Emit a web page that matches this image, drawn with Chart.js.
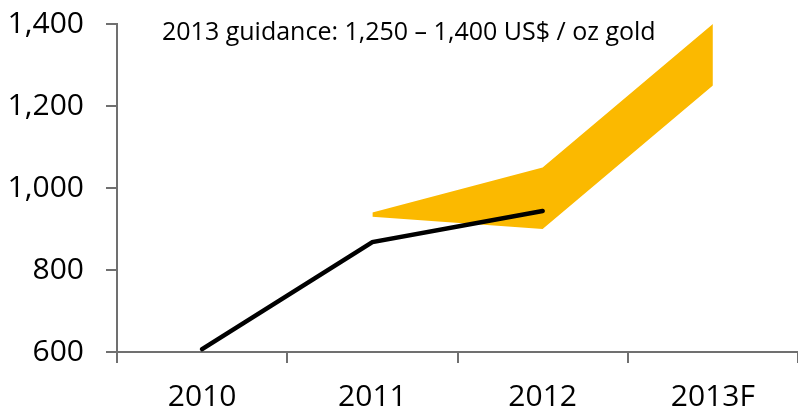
<!DOCTYPE html>
<html>
<head>
<meta charset="utf-8">
<script src="https://cdn.jsdelivr.net/npm/chart.js@4.4.1/dist/chart.umd.min.js"></script>
<style>
  html, body { margin: 0; padding: 0; background: #fff; }
  #wrap { width: 798px; height: 414px; }
</style>
</head>
<body>
<div id="wrap"><canvas id="myChart"></canvas></div>
<script>
// gold price history and 2013 guidance band
const years = ['2010', '2011', '2012', '2013F'];
const realisedPrice = [607, 868, 944, null];
const guidanceHigh = [null, 940, 1050, 1400];
const guidanceLow = [null, 930, 900, 1250];
const yTicks = [600, 800, 1000, 1200, 1400];
const note = '2013 guidance: 1,250 \u2013 1,400 US$ / oz gold';

const axisGrey = '#707070';
const gold = '#FBB900';
const fontFamily = '"Open Sans", "Noto Sans", sans-serif';

const notePlugin = {
  id: 'note',
  afterDraw(chart) {
    const ctx = chart.ctx;
    const area = chart.chartArea;
    ctx.save();
    ctx.font = '25px ' + fontFamily;
    ctx.fillStyle = '#000';
    ctx.textBaseline = 'middle';
    ctx.fillText(note, area.left + 45, area.top + 9);
    ctx.restore();
  }
};

new Chart(document.getElementById('myChart'), {
  type: 'line',
  data: {
    labels: years,
    datasets: [
      {
        label: 'Gold price',
        data: realisedPrice,
        borderColor: '#000',
        borderWidth: 4.5,
        borderCapStyle: 'round',
        pointRadius: 0,
        tension: 0,
        fill: false,
        order: 0
      },
      {
        label: 'Guidance high',
        data: guidanceHigh,
        borderWidth: 0,
        borderColor: gold,
        backgroundColor: gold,
        pointRadius: 0,
        tension: 0,
        fill: '+1',
        order: 1
      },
      {
        label: 'Guidance low',
        data: guidanceLow,
        borderWidth: 0,
        borderColor: gold,
        backgroundColor: gold,
        pointRadius: 0,
        tension: 0,
        fill: false,
        order: 2
      }
    ]
  },
  options: {
    responsive: true,
    maintainAspectRatio: false,
    animation: false,
    layout: { padding: { top: 24, right: 0, left: 0, bottom: 0 } },
    plugins: {
      legend: { display: false },
      tooltip: { enabled: false }
    },
    scales: {
      x: {
        offset: true,
        grid: { offset: true, drawOnChartArea: false, tickLength: 11, color: axisGrey, lineWidth: 2 },
        border: { color: axisGrey, width: 2 },
        ticks: { color: '#000', padding: 16, font: { family: fontFamily, size: 30 } },
        afterFit(scale) { scale.height = 62; scale.paddingLeft = 0; scale.paddingRight = 0; }
      },
      y: {
        min: 600,
        max: 1400,
        afterBuildTicks(scale) { scale.ticks = yTicks.map(v => ({ value: v })); },
        grid: { drawOnChartArea: false, tickLength: 11, color: axisGrey, lineWidth: 2 },
        border: { color: axisGrey, width: 2 },
        ticks: {
          color: '#000',
          padding: 22,
          font: { family: fontFamily, size: 30 },
          callback: v => v.toLocaleString('en-US')
        },
        afterFit(scale) { scale.width = 117; scale.paddingTop = 0; scale.paddingBottom = 0; }
      }
    }
  },
  plugins: [notePlugin]
});
</script>
</body>
</html>
